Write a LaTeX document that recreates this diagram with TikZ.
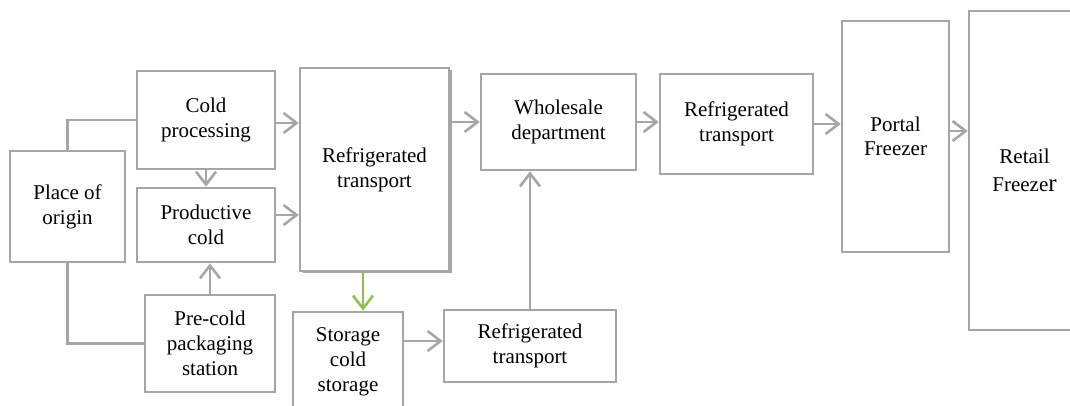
\documentclass[tikz,border=0pt]{standalone}
\usepackage{fontspec}
\setmainfont{Liberation Serif}
\newfontfamily\lserif{Liberation Serif}
\usetikzlibrary{arrows.meta,calc}
\definecolor{boxgray}{HTML}{A6A6A6}
\definecolor{arrgreen}{HTML}{92C050}
\begin{document}
\begin{tikzpicture}[x=1pt,y=-1pt,
  box/.style={draw=boxgray,line width=2.6pt,align=center,inner sep=0pt,
    font=\lserif\fontsize{21}{25}\selectfont,text=black},
  conn/.style={draw=boxgray,line width=2.6pt},
  arr/.style={conn,-{Straight Barb[length=13pt,width=20pt,line width=2.6pt]}},
  garr/.style={arr,draw=arrgreen}]
\useasboundingbox (0,0) rectangle (1070,405);
\clip (0,0) rectangle (1070,405);
\node[box,minimum width=115pt,minimum height=111pt] (origin) at (67.5,206.5) {Place of\\origin};
\node[box,minimum width=138pt,minimum height=98pt] (coldproc) at (206,120) {Cold\\processing};
\node[box,minimum width=138pt,minimum height=74pt] (prodcold) at (206,225) {Productive\\cold};
\node[box,minimum width=130pt,minimum height=97pt] (precold) at (210,343.5) {Pre-cold\\packaging\\station};
\draw[boxgray,line width=2.6pt] (303,272) -- (451,272) -- (451,70);
\node[box,fill=white,minimum width=149pt,minimum height=203pt] (bigRT) at (374.5,169.5) {Refrigerated\\transport};
\node[box,minimum width=155pt,minimum height=96pt] (wholesale) at (558.5,122) {Wholesale\\department};
\node[box,minimum width=110pt,minimum height=100pt] (storage) at (348,362) {Storage\\cold\\storage};
\node[box,minimum width=172pt,minimum height=72pt] (lowerRT) at (530,346) {Refrigerated\\transport};
\node[box,minimum width=153pt,minimum height=100pt] (rtTop) at (736.5,124) {Refrigerated\\transport};
\node[box,minimum width=107pt,minimum height=231pt,font=\lserif\fontsize{21}{24}\selectfont] (portal) at (895.5,136.5) {Portal\\Freezer};
\node[box,minimum width=111pt,minimum height=319pt,font=\lserif\fontsize{21}{28}\selectfont] (retail) at (1024.5,170.5) {Retail\\Freeze{\fontsize{25}{28}\selectfont r}};
% connectors
\draw[conn] (origin.north) |- (coldproc.west);
\draw[conn] (origin.south) |- (precold.west);
\draw[arr] (coldproc.south) -- (prodcold.north);
\draw[arr] (precold.north) -- (precold.north |- prodcold.south);
\coordinate (c1) at ($(coldproc.east)+(0,3)$);
\draw[arr] (c1) -- (c1 -| bigRT.west);
\coordinate (c2) at ($(prodcold.east)+(0,-10)$);
\draw[arr] (c2) -- (c2 -| bigRT.west);
\draw[arr] (wholesale.west -| bigRT.east) -- (wholesale.west);
\coordinate (g1) at (363,272);
\draw[garr] (g1) -- (g1 |- storage.north);
\coordinate (s1) at ($(lowerRT.west)+(0,-5)$);
\draw[arr] (s1 -| storage.east) -- (s1);
\draw[arr] (lowerRT.north) -- (lowerRT.north |- wholesale.south);
\draw[arr] (wholesale.east) -- (wholesale.east -| rtTop.west);
\draw[arr] (rtTop.east) -- (rtTop.east -| portal.west);
\coordinate (p1) at ($(portal.east)+(0,-5.5)$);
\draw[arr] (p1) -- (p1 -| retail.west);
\end{tikzpicture}
\end{document}
